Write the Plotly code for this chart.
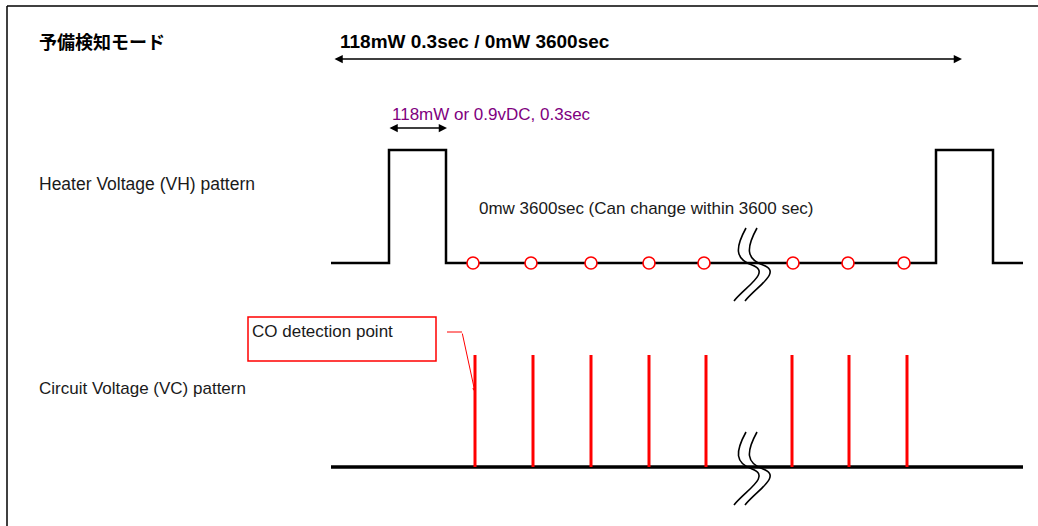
import plotly.graph_objects as go

# heater (VH) waveform: two 0.3 s pulses around a long 0 mW period
heater_x = [331, 389, 389, 446, 446, 936, 936, 993, 993, 1023]
heater_y = [263, 263, 150, 150, 263, 263, 150, 150, 263, 263]

# CO detection moments (open circles on VH, red pulses on VC)
detect_vh_x = [473, 531, 591, 649, 704, 793, 848, 904]
detect_vc_x = [475, 533, 591, 649, 706, 792, 849, 907]
vh_base = 263
vc_base = 467
vc_top = 355
vc_line_x = [331, 1023]

labels = {
    "title": "予備検知モード",
    "cycle": "118mW 0.3sec / 0mW 3600sec",
    "pulse": "118mW or 0.9vDC, 0.3sec",
    "off": "0mw 3600sec (Can change within 3600 sec)",
    "vh": "Heater Voltage (VH) pattern",
    "vc": "Circuit Voltage (VC) pattern",
    "co": "CO detection point",
}

FONT = "Liberation Sans, Arial, sans-serif"
RED = "#FF0000"

fig = go.Figure()

# heater waveform
fig.add_trace(go.Scatter(x=heater_x, y=heater_y, mode="lines",
                         line=dict(color="black", width=2.5), hoverinfo="none"))
fig.add_trace(go.Scatter(x=detect_vh_x, y=[vh_base] * len(detect_vh_x), mode="markers",
                         marker=dict(symbol="circle", size=12, color="white",
                                     line=dict(color=RED, width=1.6)),
                         hoverinfo="none"))

# circuit waveform
fig.add_trace(go.Scatter(x=vc_line_x, y=[vc_base, vc_base], mode="lines",
                         line=dict(color="black", width=3.5), hoverinfo="none"))
vx, vy = [], []
for x in detect_vc_x:
    vx += [x, x, None]
    vy += [vc_top, vc_base, None]
fig.add_trace(go.Scatter(x=vx, y=vy, mode="lines",
                         line=dict(color=RED, width=3), hoverinfo="none"))


def break_mark(x0, yc):
    for dx in (0, 11):
        a = x0 + dx
        p = (f"M {a},{yc - 35} C {a - 11},{yc - 15} {a - 11},{yc - 4} {a + 6},{yc + 2} "
             f"C {a + 26},{yc + 9} {a - 1},{yc + 24} {a - 12},{yc + 38}")
        fig.add_shape(type="path", path=p, xref="x", yref="y",
                      line=dict(color="black", width=1.6))


break_mark(746, vh_base)
break_mark(746, vc_base)

# frame lines
fig.add_shape(type="line", x0=7, x1=1038, y0=6, y1=6, xref="x", yref="y",
              line=dict(color="black", width=1.5))
fig.add_shape(type="line", x0=7, x1=7, y0=6, y1=526, xref="x", yref="y",
              line=dict(color="black", width=1.5))

# CO detection call-out
fig.add_shape(type="rect", x0=248, x1=436, y0=317, y1=361, xref="x", yref="y",
              line=dict(color=RED, width=1.5), fillcolor="white")
fig.add_shape(type="line", x0=447, x1=462, y0=332, y1=332, xref="x", yref="y",
              line=dict(color=RED, width=1))
fig.add_annotation(x=475, y=392, ax=462, ay=332, xref="x", yref="y", axref="x", ayref="y",
                   text="", showarrow=True, arrowhead=2, arrowsize=0.8, arrowwidth=1,
                   arrowcolor=RED)

# double arrows
fig.add_annotation(x=962, y=59, ax=333, ay=59, xref="x", yref="y", axref="x", ayref="y",
                   text="", showarrow=True, arrowhead=2, arrowside="end+start",
                   arrowsize=1.1, arrowwidth=1.5, arrowcolor="black")
fig.add_annotation(x=447, y=128, ax=388, ay=128, xref="x", yref="y", axref="x", ayref="y",
                   text="", showarrow=True, arrowhead=2, arrowside="end+start",
                   arrowsize=1.1, arrowwidth=1.5, arrowcolor="black")


def label(x, y, text, size=17, color="#1a1a1a", bold=False, family=FONT):
    if bold:
        text = f"<b>{text}</b>"
    fig.add_annotation(x=x, y=y, text=text, xref="x", yref="y", showarrow=False,
                       xanchor="left", yanchor="middle",
                       font=dict(size=size, color=color, family=family))


label(37, 41, labels["title"], size=18, color="black", bold=True,
      family="Noto Sans CJK JP, sans-serif")
label(338, 41, labels["cycle"], size=19, color="black", bold=True)
label(390, 114, labels["pulse"], size=17, color="#800080")
label(477, 208, labels["off"], size=17)
label(37, 184, labels["vh"], size=17.5)
label(37, 388, labels["vc"], size=17)
label(250, 331, labels["co"], size=17)

fig.update_xaxes(range=[0, 1038], visible=False, fixedrange=True)
fig.update_yaxes(range=[526, 0], visible=False, fixedrange=True)
fig.update_layout(
    width=1038, height=526,
    margin=dict(l=0, r=0, t=0, b=0),
    paper_bgcolor="white", plot_bgcolor="white",
    showlegend=False,
)

fig.write_html(
    "out.html",
    config={"displayModeBar": False, "responsive": False},
    post_script=(
        "document.documentElement.style.cssText='margin:0;padding:0;overflow:hidden';"
        "document.body.style.cssText='margin:0;padding:0;overflow:hidden';"
    ),
)
